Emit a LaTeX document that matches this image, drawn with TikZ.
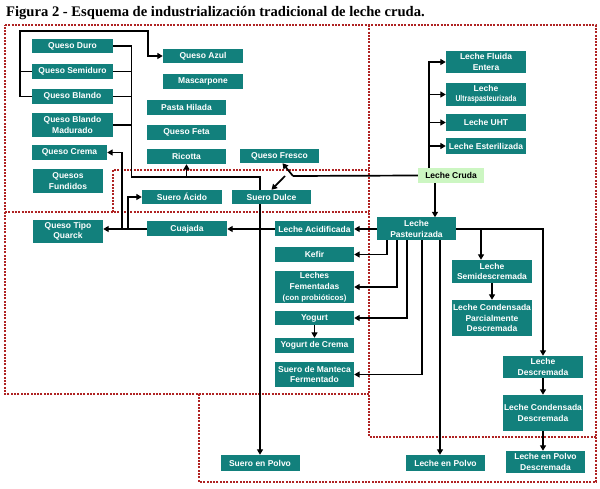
\documentclass[tikz,border=0pt]{standalone}
\usepackage{fontspec}
\usepackage{graphicx}
\newfontfamily\lsans{Liberation Sans}
\newfontfamily\lserif{Liberation Serif}
\usetikzlibrary{arrows.meta,calc}
\pgfdeclarelayer{bg}
\pgfsetlayers{bg,main}
\definecolor{tealbox}{RGB}{18,128,124}
\definecolor{crudafill}{RGB}{204,246,194}
\definecolor{regred}{RGB}{175,35,35}
\tikzset{
 box/.style={fill=tealbox,text=white,font=\lsans\bfseries\fontsize{8.5}{10.5}\selectfont,align=center,inner sep=0pt,minimum width=80pt,minimum height=15pt},
 conn/.style={draw=black,line width=1.7pt},
 arr/.style={conn,-{Triangle[length=5.5pt,width=6pt]}},
 region/.style={draw=regred,line width=1.2pt,dash pattern=on 2pt off 1.3pt},
}
\begin{document}
\begin{tikzpicture}[x=1pt,y=-1pt]
\useasboundingbox (0,0) rectangle (600,489);

% title
\node[anchor=base west,inner sep=0pt,font=\lserif\bfseries\fontsize{14.6}{16}\selectfont] (title) at (6,17) {Figura 2 - Esquema de industrialización tradicional de leche cruda.};

% cheeses
\node[box,minimum width=81pt,minimum height=14pt] (qduro) at (72.5,46) {Queso Duro};
\node[box,minimum width=81pt] (qsemi) at (72.5,71.5) {Queso Semiduro};
\node[box,minimum width=81pt] (qblando) at (72.5,96.5) {Queso Blando};
\node[box,minimum width=81pt,minimum height=24pt] (qbmad) at (72.5,125) {Queso Blando\\Madurado};
\node[box,minimum width=75pt] (qcrema) at (69.5,152.5) {Queso Crema};
\node[box,minimum width=70pt,minimum height=24pt] (qfund) at (68,181) {Quesos\\Fundidos};
\node[box,minimum height=14pt] (qazul) at (203,56) {Queso Azul};
\node[box] (masc) at (203,81.5) {Mascarpone};
\node[box,minimum width=79pt] (pasta) at (186.5,107.5) {Pasta Hilada};
\node[box,minimum width=79pt] (feta) at (186.5,132.5) {Queso Feta};
\node[box,minimum width=79pt] (ricotta) at (186.5,156.5) {Ricotta};
\node[box,minimum width=79pt,minimum height=14pt] (qfresco) at (279.5,156) {Queso Fresco};
\node[box,minimum height=14pt] (sacido) at (182,197) {Suero Ácido};
\node[box,minimum width=79pt,minimum height=14pt] (sdulce) at (271.5,197) {Suero Dulce};
\node[box] (cuajada) at (187,229) {Cuajada};
\node[box,minimum width=70pt,minimum height=23pt] (quarck) at (68,231.5) {Queso Tipo\\Quarck};

% fermented
\node[box,minimum width=79pt] (lacid) at (314.5,229) {Leche Acidificada};
\node[box,minimum width=79pt] (kefir) at (314.5,254.5) {Kefir};
\node[box,minimum width=79pt,minimum height=32pt,font=\lsans\bfseries\fontsize{8.5}{11}\selectfont] (lferm) at (314.5,287) {Leches\\Fementadas\\{\fontsize{7.8}{11}\selectfont (con probióticos)}};
\node[box,minimum width=79pt,minimum height=14pt] (yogurt) at (314.5,318) {Yogurt};
\node[box,minimum width=79pt] (ycrema) at (314.5,345.5) {Yogurt de Crema};
\node[box,minimum width=79pt,minimum height=25pt] (smant) at (314.5,374.5) {Suero de Manteca\\Fermentado};

% milk
\node[box,minimum width=79pt,minimum height=23pt] (lpast) at (416.5,229) {Leche\\Pasteurizada};
\node[box,fill=crudafill,text=black,minimum width=66pt] (lcruda) at (451,175.5) {Leche Cruda};
\node[box,minimum height=22pt] (lfluida) at (486,62) {Leche Fluida\\Entera};
\node[box,minimum height=23pt] (lultra) at (486,94.5) {Leche\\\scalebox{0.8}[1]{Ultraspasteurizada}};
\node[box,minimum height=17pt] (luht) at (486,122.5) {Leche UHT};
\node[box,minimum height=16pt] (lester) at (486,146) {Leche Esterilizada};
\node[box,minimum height=23pt] (lsemi) at (492,271.5) {Leche\\Semidescremada};
\node[box,minimum height=36pt] (lcpd) at (492,318) {Leche Condensada\\Parcialmente\\Descremada};
\node[box,minimum height=22pt] (ldesc) at (543,367) {Leche\\Descremada};
\node[box,minimum height=36pt] (lcd) at (543,413) {Leche Condensada\\Descremada};
\node[box,minimum width=79pt,minimum height=22pt] (lpd) at (545.5,462) {Leche en Polvo\\Descremada};
\node[box,minimum width=79pt,minimum height=16pt] (lpolvo) at (445.5,463) {Leche en Polvo};
\node[box,minimum width=79pt,minimum height=16pt] (spolvo) at (260,463) {Suero en Polvo};

% named junction points
\coordinate (busL) at (20,31);
\coordinate (busR) at (131.5,177);
\coordinate (lcj) at (293,176);
\coordinate (lcj2) at (285,176);
\coordinate (vbus) at (429,168);
\coordinate (cq) at (122,229);
\coordinate (ca) at (128,229);
\coordinate (p1) at (387,240.5);
\coordinate (p2) at (397,240.5);
\coordinate (p3) at (407,240.5);
\coordinate (p4) at (422,240.5);
\coordinate (p5) at (440,240.5);
\coordinate (ps) at (481,229);
\coordinate (cd) at (435,183);

\begin{pgfonlayer}{bg}
\fill[white] (0,0) rectangle (600,489);
% regions
\draw[region] (5,25) -- (596,25) -- (596,482) -- (199,482) -- (199,394) -- (5,394) -- cycle;
\draw[region] (199,394) -- (369,394);
\draw[region] (369,25) -- (369,437) -- (596,437);
\draw[region] (5,212) -- (369,212);
\draw[region] (113,212) -- (113,170) -- (369,170);

% cheese buses
\draw[arr] (qblando.west) -| (busL) -| ($(qazul.west)+(-15,0)$) -- (qazul.west);
\draw[conn] (qsemi.west) -- (qsemi.west -| busL);
\draw[arr] (qduro.east) -| (busR) -| (spolvo.north);
\draw[conn] (qsemi.east) -- (qsemi.east -| busR);
\draw[conn] (qblando.east) -- (qblando.east -| busR);
\draw[conn] (qbmad.east) -- (qbmad.east -| busR);
\draw[arr] (ricotta.south |- busR) -- (ricotta.south);

% leche cruda
\draw[conn] (lcruda.west) -- (lcj);
\draw[arr] (lcj) -- ($(qfresco.south)+(3,0)$);
\draw[arr] (lcj2) -- (sdulce.north);
\draw[arr] (vbus) |- (lfluida.west);
\draw[arr] (vbus |- lultra.west) -- (lultra.west);
\draw[arr] (vbus |- luht.west) -- (luht.west);
\draw[arr] (vbus |- lester.west) -- (lester.west);
\draw[arr] (cd) -- (cd |- lpast.north);

% pasteurizada left
\draw[arr] (lpast.west) -- (lacid.east);
\draw[arr] (lacid.west) -- (cuajada.east);
\draw[arr] (cuajada.west) -- (cuajada.west -| quarck.east);
\draw[arr] (cq) |- (qcrema.east);
\draw[arr] (ca) |- (sacido.west);
\draw[arr] (p1) |- (kefir.east);
\draw[arr] (p2) |- (lferm.east);
\draw[arr] (p3) |- (yogurt.east);
\draw[arr] (p4) |- (smant.east);
\draw[arr] (p5) -- (p5 |- lpolvo.north);
\draw[arr] (yogurt.south) -- (ycrema.north);

% pasteurizada right
\draw[arr] (lpast.east) -| (ldesc.north);
\draw[arr] (ps) -- (ps |- lsemi.north);
\draw[arr] (lsemi.south) -- (lcpd.north);
\draw[arr] (ldesc.south) -- (lcd.north);
\draw[arr] (lcd.south) -- (lcd.south |- lpd.north);
\end{pgfonlayer}
\end{tikzpicture}
\end{document}
